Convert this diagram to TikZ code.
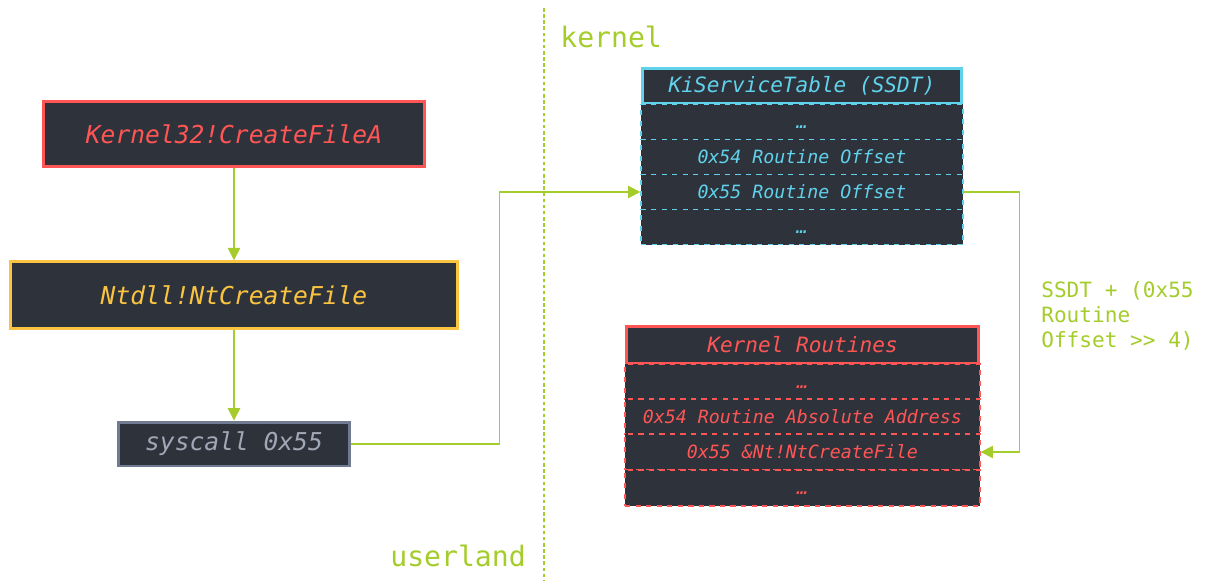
\documentclass[tikz,border=0pt]{standalone}
\usepackage{fontspec}
\setmonofont{DejaVu Sans Mono}
\usetikzlibrary{
	arrows.meta,
	positioning
}
\definecolor{panel}{RGB}{46,50,59}
\definecolor{cred}{RGB}{255,85,85}
\definecolor{cyellow}{RGB}{250,196,64}
\definecolor{cgray}{RGB}{112,122,145}
\definecolor{cgraytext}{RGB}{160,168,182}
\definecolor{ccyan}{RGB}{96,210,235}
\definecolor{cgreen}{RGB}{164,204,42}

\tikzset{
	box/.style={draw, line width=1.7pt, fill=panel, inner sep=0pt, font=\ttfamily\itshape\fontsize{14}{16}\selectfont},
	head/.style={draw, line width=1.7pt, fill=panel, inner sep=0pt, font=\ttfamily\itshape\fontsize{12}{14}\selectfont},
	row/.style={draw, dashed, line width=0.8pt, fill=panel, inner sep=0pt, text height=1.9ex, text depth=0.1ex, font=\ttfamily\itshape\fontsize{10.4}{12}\selectfont},
	link/.style={draw=cgreen, line width=0.9pt, ->},
	zone/.style={text=cgreen, inner sep=0pt, font=\ttfamily\fontsize{16}{18}\selectfont}
}

\begin{document}
\begin{tikzpicture}[x=0.02cm, y=-0.02cm, >={Triangle[length=7pt,width=7pt]}]
		\useasboundingbox (0,0) rectangle (1207,581);
		
		% userland / kernel split
		\draw[cgreen, line width=0.8pt, dash pattern=on 2pt off 1.5pt] (544,8) -- (544,581);
		\node[zone, anchor=base west] (kernel) at (560,48) {kernel};
		\node[zone, anchor=base west] (userland) at (390,566) {userland};
		
		% userland call chain
		\node[box, draw=cred, text=cred, minimum width=7.62cm, minimum height=1.3cm] (k32) at (234,134) {Kernel32!CreateFileA};
		\node[box, draw=cyellow, text=cyellow, minimum width=8.94cm, minimum height=1.33cm] (ntdll) at (234,295) {Ntdll!NtCreateFile};
		\node[box, draw=cgray, text=cgraytext, minimum width=4.64cm, minimum height=0.88cm] (sys) at (234,444) {syscall 0x55};
		
		% SSDT
		\node[head, draw=ccyan, text=ccyan, minimum width=6.4cm, minimum height=0.7cm] (ssdt) at (802,86) {KiServiceTable (SSDT)};
		\node[row, draw=ccyan, text=ccyan, minimum width=6.44cm, minimum height=0.71cm] (sa) at (802,122) {…};
		\node[row, draw=ccyan, text=ccyan, minimum width=6.44cm, minimum height=0.71cm] (s54) at (802,157) {0x54 Routine Offset};
		\node[row, draw=ccyan, text=ccyan, minimum width=6.44cm, minimum height=0.71cm] (s55) at (802,192) {0x55 Routine Offset};
		\node[row, draw=ccyan, text=ccyan, minimum width=6.44cm, minimum height=0.71cm] (sb) at (802,227) {…};
		
		% kernel routines
		\node[head, draw=cred, text=cred, minimum width=7.06cm, minimum height=0.74cm] (krt) at (802.5,345) {Kernel Routines};
		\node[row, draw=cred, text=cred, minimum width=7.1cm, minimum height=0.72cm] (ra) at (802.5,382) {…};
		\node[row, draw=cred, text=cred, minimum width=7.1cm, minimum height=0.72cm] (r54) at (802.5,417) {0x54 Routine Absolute Address};
		\node[row, draw=cred, text=cred, minimum width=7.1cm, minimum height=0.72cm] (r55) at (802.5,452) {0x55 \&Nt!NtCreateFile};
		\node[row, draw=cred, text=cred, minimum width=7.1cm, minimum height=0.72cm] (rb) at (802.5,488) {…};
		
		\node[anchor=north west, align=left, inner sep=0pt, text=cgreen, font=\ttfamily\fontsize{12}{14.2}\selectfont] (calc) at (1041,281) {SSDT + (0x55\\Routine\\Offset >> 4)};
		
		% Arrows
		\draw[link] (k32) -- (ntdll);
		\draw[link] (ntdll) -- (sys);
		\draw[link] (sys.east) -- ++(148,0) |- (s55.west);
		\draw[link] (s55.east) -- ++(56,0) |- (r55.east);
		
	\end{tikzpicture}
\end{document}
